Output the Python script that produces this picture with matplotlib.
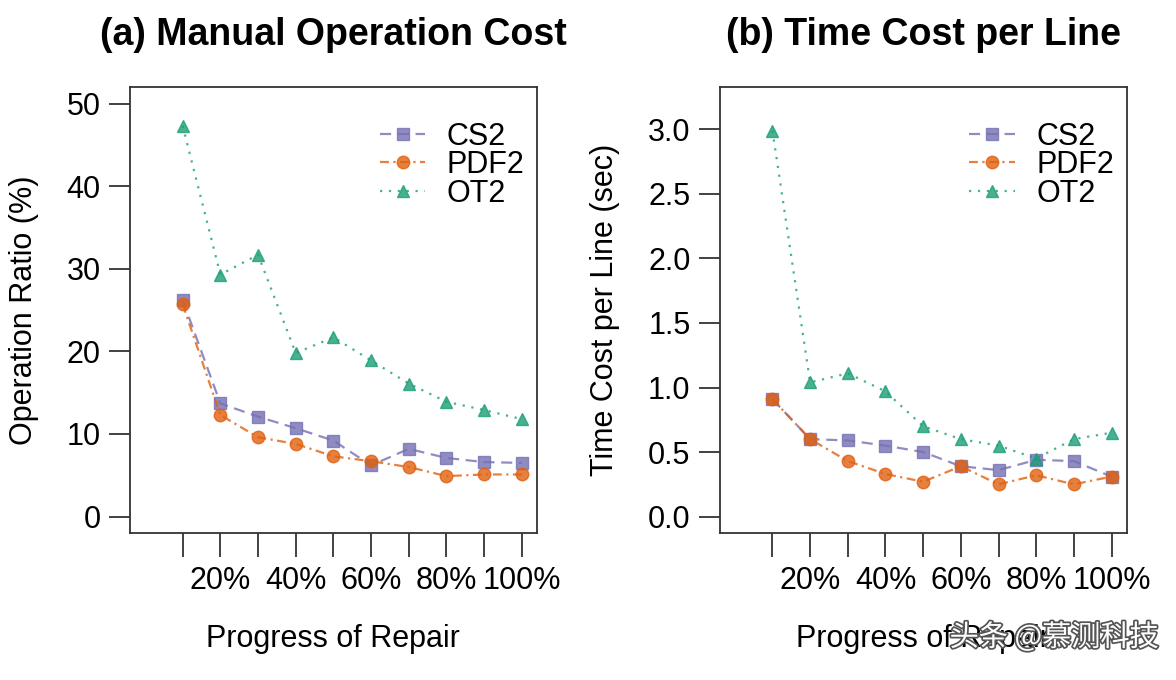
import matplotlib
matplotlib.use("Agg")
import matplotlib.pyplot as plt
import matplotlib.patheffects as pe

plt.rcParams['font.family'] = ['Liberation Sans', 'DejaVu Sans']

# data
steps = [1, 2, 3, 4, 5, 6, 7, 8, 9, 10]
tick_pos = [2, 4, 6, 8, 10]
tick_lab = ['20%', '40%', '60%', '80%', '100%']
series = ['CS2', 'PDF2', 'OT2']

op_cs2 = [26.2, 13.7, 12.1, 10.7, 9.2, 6.2, 8.2, 7.1, 6.6, 6.5]
op_pdf2 = [25.7, 12.3, 9.6, 8.8, 7.3, 6.7, 6.0, 4.9, 5.1, 5.1]
op_ot2 = [47.3, 29.3, 31.7, 19.8, 21.7, 18.9, 16.1, 13.9, 12.9, 11.8]

tm_cs2 = [0.91, 0.60, 0.59, 0.55, 0.50, 0.39, 0.36, 0.44, 0.43, 0.31]
tm_pdf2 = [0.91, 0.60, 0.43, 0.33, 0.27, 0.39, 0.25, 0.32, 0.25, 0.31]
tm_ot2 = [2.99, 1.04, 1.11, 0.97, 0.70, 0.60, 0.55, 0.45, 0.60, 0.65]

colors = ['#7570B3', '#E0600F', '#1B9E77']
markers = ['s', 'o', '^']
styles = [(0, (5, 3)), (0, (4, 2, 1, 2)), (0, (1, 3))]

fig = plt.figure(figsize=(11.76, 6.8), dpi=100)

panels = [
    ([0.1105, 0.216, 0.346, 0.656], [op_cs2, op_pdf2, op_ot2], (-2, 52), [0, 10, 20, 30, 40, 50],
     ['0', '10', '20', '30', '40', '50'], 'Operation Ratio (%)', '(a) Manual Operation Cost'),
    ([0.612, 0.216, 0.346, 0.656], [tm_cs2, tm_pdf2, tm_ot2], (-0.128, 3.328),
     [0, 0.5, 1.0, 1.5, 2.0, 2.5, 3.0], ['0.0', '0.5', '1.0', '1.5', '2.0', '2.5', '3.0'],
     'Time Cost per Line (sec)', '(b) Time Cost per Line'),
]

for rect, data, ylim, yt, ytl, ylab, title in panels:
    ax = fig.add_axes(rect)
    for vals, c, m, ls, name in zip(data, colors, markers, styles, series):
        ax.plot(steps, vals, color=c, linestyle=ls, linewidth=1.6, alpha=0.8,
                marker=m, markersize=9, markeredgecolor=c, markerfacecolor=c,
                label=name)
    ax.set_xlim(-0.4, 10.4)
    ax.set_ylim(*ylim)
    ax.set_xticks(steps)
    ax.set_xticklabels(['' if s not in tick_pos else tick_lab[tick_pos.index(s)] for s in steps])
    ax.set_yticks(yt)
    ax.set_yticklabels(ytl)
    ax.tick_params(axis='both', direction='out', length=15, width=1.3, color='#333333',
                   labelsize=22, pad=6)
    ax.tick_params(axis='x', length=17, pad=7)
    for sp in ax.spines.values():
        sp.set_linewidth(1.3)
        sp.set_color('#333333')
    ax.set_ylabel(ylab, fontsize=22, labelpad=20)
    ax.set_xlabel('Progress of Repair', fontsize=22, labelpad=20)
    ax.set_title(title, fontsize=27, fontweight='bold', pad=30)
    ax.legend(loc='upper right', frameon=False, fontsize=22, handlelength=1.5,
              handletextpad=0.7, labelspacing=-0.05, borderaxespad=0.0,
              bbox_to_anchor=(1.0, 0.95))

fig.text(0.985, 0.062, '头条 @慕测科技', ha='right', va='center', fontsize=21,
         color='white', family=['Noto Sans CJK SC', 'DejaVu Sans'],
         path_effects=[pe.withStroke(linewidth=2.5, foreground='#555555')])

fig.savefig('out.png', dpi=100, facecolor='white')
